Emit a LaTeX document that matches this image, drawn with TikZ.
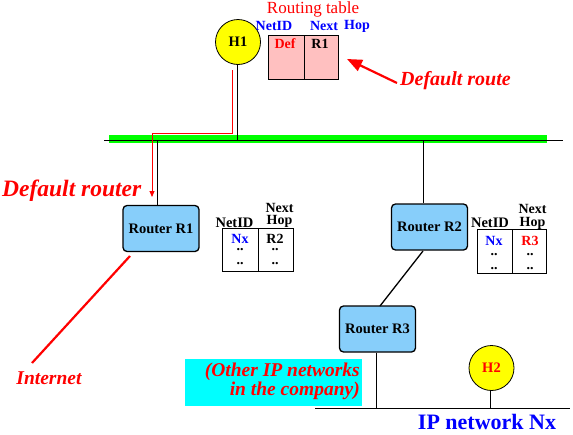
\documentclass[tikz,border=0pt]{standalone}
\usepackage{fontspec}
\setmainfont{Liberation Serif}
\usetikzlibrary{arrows.meta}
\definecolor{pinkfill}{RGB}{255,192,192}
\definecolor{routerblue}{RGB}{135,206,250}
\definecolor{busgreen}{RGB}{0,255,0}
\definecolor{hostyellow}{RGB}{255,255,0}
\definecolor{netcyan}{RGB}{0,255,255}
\definecolor{txtblue}{RGB}{0,0,255}
\definecolor{txtred}{RGB}{255,0,0}
\tikzset{
  fs/.style={font=\fontsize{#1}{#1}\selectfont\bfseries},
  lbl/.style={inner sep=0pt, anchor=center},
  bl/.style={inner sep=0pt, anchor=base},
  host/.style={circle, draw=black, line width=0.8pt, fill=hostyellow, minimum size=45pt, inner sep=0pt, fs=14.5},
  router/.style={rectangle, rounded corners=4pt, draw=black, line width=1.3pt, fill=routerblue, minimum width=76pt, minimum height=46pt, inner sep=0pt, fs=14.5},
  tablebox/.style={rectangle, draw=black, line width=0.8pt, inner sep=0pt},
  wire/.style={draw=black, line width=0.9pt},
}
\begin{document}
\begin{tikzpicture}[x=1pt,y=-1pt]
\useasboundingbox (0,0) rectangle (573,434);
% main bus
\fill[busgreen] (109,135) rectangle (547,143);
\coordinate (busL) at (104,140);
\coordinate (busR) at (563,140);
\draw[wire] (busL) -- (busR);
% H1
\node[host] (h1) at (238,42) {H1};
\coordinate (b0) at (237,140);
\draw[wire] (h1.south -| b0) -- (b0);
% routing table top
\node[lbl, text=txtred, font=\fontsize{17}{17}\selectfont] (rt) at (313,9) {Routing table};
\node[lbl, text=txtblue, fs=14] (tnid) at (274,26) {NetID};
\node[lbl, text=txtblue, fs=14] (tnext) at (324,26) {Next};
\node[lbl, text=txtblue, fs=14] (thop) at (357,26) {Hop};
\node[tablebox, fill=pinkfill, minimum width=70pt, minimum height=44pt, anchor=north west] (t0) at (268,35) {};
\coordinate (t0d) at (304,35);
\draw[line width=0.8pt] (t0d) -- (t0d |- t0.south);
\node[lbl, text=txtred, fs=14] (tdef) at (285,44) {Def};
\node[lbl, fs=14] (tr1) at (320,44) {R1};
% default route arrow
\node[lbl, text=txtred, font=\fontsize{20}{20}\selectfont\bfseries\itshape, anchor=west] (dr) at (400,81) {Default route};
\coordinate (drtail) at (397,83);
\coordinate (drtip) at (347,59);
\draw[txtred, line width=2.2pt, -{Triangle[length=15pt,width=12pt]}] (drtail) -- (drtip);
% red path H1 to default router
\coordinate (rp0) at (232,70);
\coordinate (rp1) at (232,133);
\coordinate (rp2) at (152,133);
\coordinate (rp3) at (152,197);
\draw[txtred, line width=0.9pt, -{Triangle[length=6pt,width=5pt]}] (rp0) -- (rp1) -- (rp2) -- (rp3);
\node[lbl, text=txtred, font=\fontsize{23.5}{23.5}\selectfont\bfseries\itshape, anchor=west] (drouter) at (2,191) {Default router};
% Router R1
\node[router] (r1) at (161,228.5) {Router R1};
\coordinate (b1) at (157,140);
\draw[wire] (b1) -- (b1 |- r1.north);
% Internet
\coordinate (inetA) at (130,256);
\coordinate (inetB) at (32,363);
\draw[txtred, line width=2.2pt] (inetA) -- (inetB);
\node[lbl, text=txtred, font=\fontsize{19.5}{19.5}\selectfont\bfseries\itshape] (inet) at (49,378) {Internet};
% R1 table
\node[lbl, fs=14.5] (n1id) at (234.5,223) {NetID};
\node[lbl, align=center, font=\fontsize{14}{12.5}\selectfont\bfseries] (n1nh) at (279.5,215.5) {Next\\Hop};
\node[tablebox, fill=white, minimum width=71pt, minimum height=43pt, anchor=north west] (t1) at (222,228) {};
\coordinate (t1d) at (258,228);
\draw[line width=0.8pt] (t1d) -- (t1d |- t1.south);
\node[bl, text=txtblue, fs=14] (t1a) at (240,243) {Nx};
\node[bl, fs=14] (t1b) at (275,243) {R2};
\node[bl, fs=14] (t1c) at (240,250) {..};
\node[bl, fs=14] (t1d1) at (275,250) {..};
\node[bl, fs=14] (t1e) at (240,264) {..};
\node[bl, fs=14] (t1f) at (275,264) {..};
% Router R2
\node[router] (r2) at (429.5,227) {Router R2};
\coordinate (b2) at (423,140);
\draw[wire] (b2) -- (b2 |- r2.north);
% R2 table
\node[lbl, fs=14.5] (n2id) at (490,223) {NetID};
\node[lbl, align=center, font=\fontsize{14}{12.5}\selectfont\bfseries] (n2nh) at (532.5,217) {Next\\Hop};
\node[tablebox, fill=white, minimum width=69pt, minimum height=44pt, anchor=north west] (t2) at (477,229) {};
\coordinate (t2d) at (512,229);
\draw[line width=0.8pt] (t2d) -- (t2d |- t2.south);
\node[bl, text=txtblue, fs=14] (t2a) at (494,245.5) {Nx};
\node[bl, text=txtred, fs=14] (t2b) at (530,245.5) {R3};
\node[bl, fs=14] (t2c) at (494,255) {..};
\node[bl, fs=14] (t2d1) at (530,255) {..};
\node[bl, fs=14] (t2e) at (494,269) {..};
\node[bl, fs=14] (t2f) at (530,269) {..};
% Router R3
\node[router] (r3) at (377.5,329) {Router R3};
\coordinate (l23a) at (423,251);
\coordinate (l23b) at (380,306);
\draw[line width=1.3pt] (l23a) -- (l23b);
% bottom bus
\coordinate (bbL) at (315,408);
\coordinate (bbR) at (570,408);
\draw[wire] (bbL) -- (bbR);
\coordinate (b3) at (376,408);
\draw[wire] (b3 |- r3.south) -- (b3);
% H2
\node[host, text=txtred] (h2) at (491.5,368) {H2};
\coordinate (b4) at (490,408);
\draw[wire] (b4 |- h2.south) -- (b4);
\node[lbl, text=txtblue, fs=22] (ipn) at (487,422) {IP network Nx};
% cyan box
\node[rectangle, fill=netcyan, minimum width=177pt, minimum height=47pt, inner sep=0pt, anchor=north west] (cy) at (185,359) {};
\node[lbl, anchor=east, text=txtred, align=right, font=\fontsize{19.5}{17}\selectfont\bfseries\itshape] (cyt) at (360,381) {(Other IP networks\\in the company)};
\end{tikzpicture}
\end{document}
